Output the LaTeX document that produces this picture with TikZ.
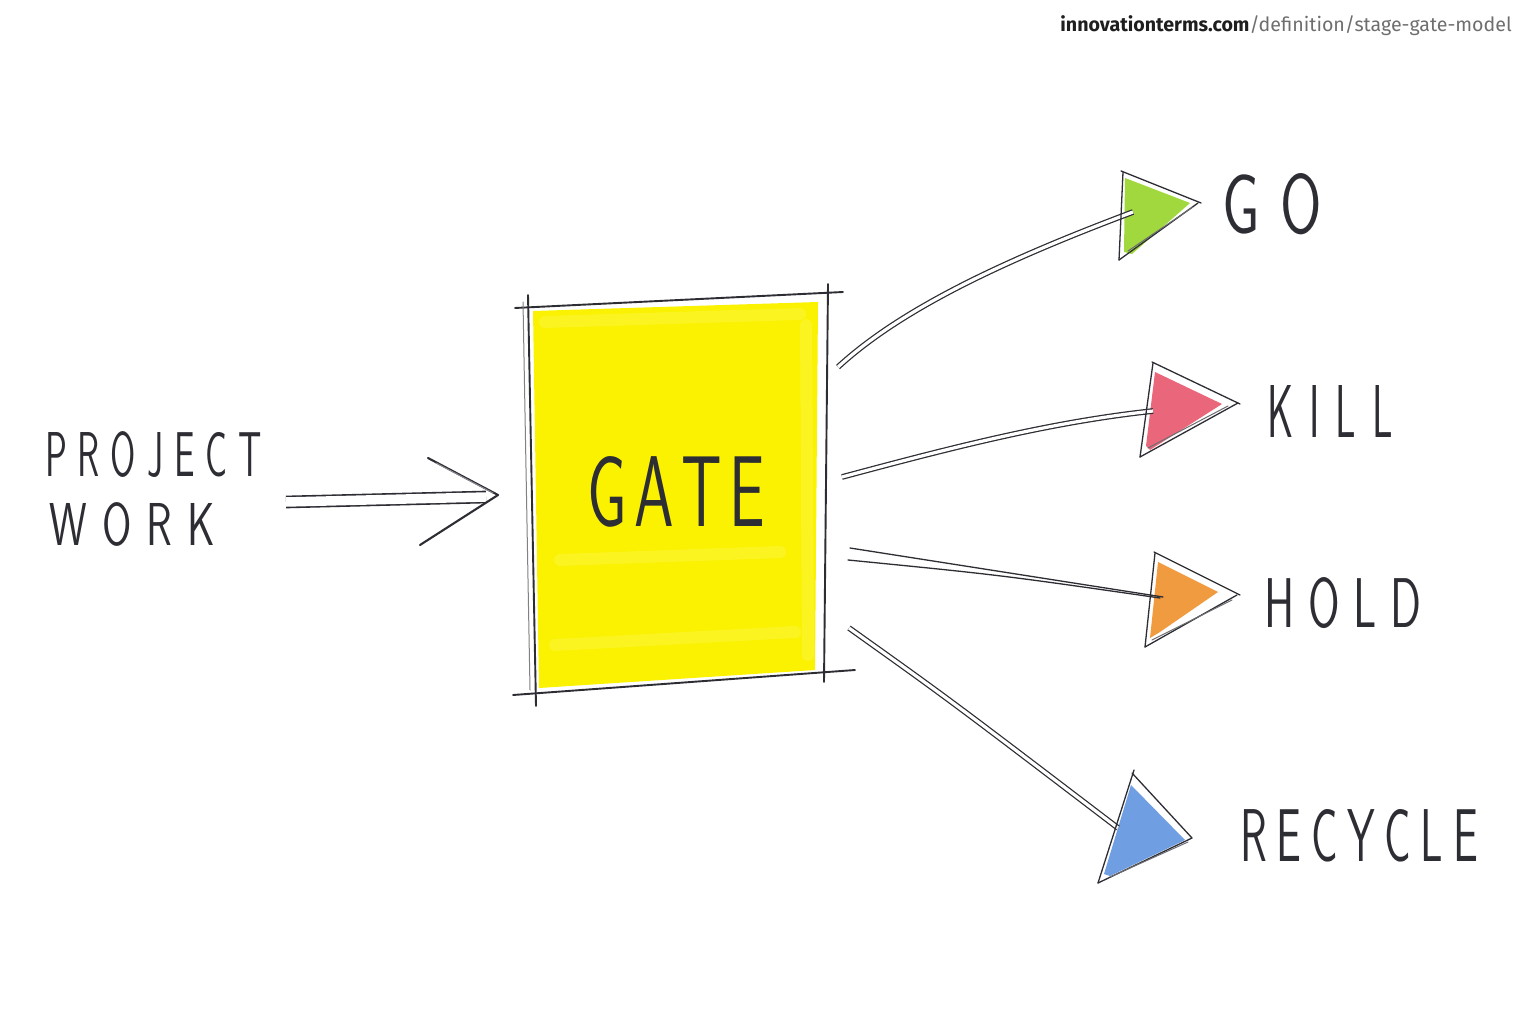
\documentclass[tikz,border=0pt]{standalone}
\usepackage{fontspec}
\usepackage{graphicx}
\newfontfamily\urlfont{Fira Sans}
\definecolor{ink}{RGB}{45,45,52}
\definecolor{gateyellow}{RGB}{250,242,0}
\definecolor{gatelight}{RGB}{255,250,110}
\definecolor{gogreen}{RGB}{150,212,40}
\definecolor{killred}{RGB}{232,82,105}
\definecolor{holdorange}{RGB}{240,145,45}
\definecolor{recblue}{RGB}{92,145,222}
\definecolor{urldark}{RGB}{30,30,30}
\definecolor{urlgray}{RGB}{110,110,110}
\makeatletter
\newcommand\spacedtext[2]{{\@tfor\sp@c:=#2\do{\sp@c\kern#1}\unkern}}
\makeatother
\newcommand\hand[4]{\resizebox{#1}{#2}{\sffamily\fontsize{50}{50}\selectfont\spacedtext{#3}{#4}}}
\begin{document}
\begin{tikzpicture}[x=1pt,y=-1pt,line cap=round,line join=round,
  sketch/.style={draw=ink,line width=1.9pt},
  thinline/.style={draw=ink,line width=1.3pt},
  dbl/.style={draw=ink,line width=1.25pt,double=white,double distance=3.2pt,line cap=butt},
  lbl/.style={inner sep=0pt,text=ink},
  marker/.style={draw=gatelight,line width=12pt,opacity=.3}]
\useasboundingbox (0,0) rectangle (1536,1024);
\fill[white] (0,0) rectangle (1536,1024);

% ---- gate ----
\fill[gateyellow] (533,311) -- (818,302) -- (815,670) -- (539,688) -- cycle;
\draw[marker] (806,325) -- (808,655);
\draw[marker] (545,322) -- (800,314);
\draw[marker] (555,645) -- (795,632);
\draw[marker] (560,560) -- (780,552);
\draw[sketch] (515,308) -- (843,292);
\draw[sketch] (528,295) .. controls (531,450) .. (536,706);
\draw[ink!60,line width=1pt] (523,302) -- (530,690);
\draw[sketch] (828,284) -- (824,682);
\draw[sketch] (513,695) -- (855,670);
\node[lbl] (gate) at (676,492) {\hand{178pt}{70pt}{0.12em}{GATE}};

% ---- input ----
\node[lbl] (project) at (153.5,454.5) {\hand{217pt}{45pt}{0.3em}{PROJECT}};
\node[lbl] (work) at (132.5,524.5) {\hand{165pt}{43pt}{0.35em}{WORK}};
\coordinate (inS) at (286,502);
\coordinate (inE) at (486,497);
\coordinate (inTip) at (498,495);
\draw[dbl,line width=1.6pt,double distance=9.5pt] (inS) -- (inE);
\draw[sketch,line width=2.1pt] (428,458) -- (inTip) -- (420,545);
\draw[ink!55,line width=1pt] (436,463) -- (493,493);

% ---- GO ----
\coordinate (goS) at (838,367);
\coordinate (goE) at (1133,212);
\coordinate (goA) at (1123,172);
\coordinate (goB) at (1198,203);
\coordinate (goC) at (1119,260);
\fill[gogreen,opacity=.9] (1125,178) -- (1190,203) -- (1132,254) -- (1124,252) -- cycle;
\draw[dbl] (goS) .. controls (900,310) and (1000,262) .. (goE);
\draw[thinline] (goA) -- (goC);
\draw[thinline] (1121,171) -- (1201,203);
\draw[thinline] (goC) -- (goB);
\draw[ink!70,line width=1pt] (1128,251) -- (1193,207);
\node[lbl] (go) at (1272,204) {\hand{100pt}{60pt}{0.35em}{GO}};

% ---- KILL ----
\coordinate (kiS) at (842,477);
\coordinate (kiE) at (1153,411);
\coordinate (kiA) at (1153,363);
\coordinate (kiB) at (1238,403);
\coordinate (kiC) at (1140,457);
\fill[killred,opacity=.88] (1155,372) -- (1222,404) -- (1150,450) -- (1146,446) -- cycle;
\draw[dbl] (kiS) .. controls (950,448) and (1050,422) .. (kiE);
\draw[thinline] (kiA) -- (kiC);
\draw[thinline] (1152,362) -- (1240,404);
\draw[thinline] (kiC) -- (kiB);
\draw[ink!70,line width=1pt] (1148,448) -- (1228,406);
\node[lbl] (kill) at (1330,411) {\hand{126pt}{52pt}{0.4em}{KILL}};

% ---- HOLD ----
\coordinate (hoS1) at (850,548);
\coordinate (hoS2) at (848,560);
\coordinate (hoE) at (1163,597);
\coordinate (hoA) at (1155,553);
\coordinate (hoB) at (1237,595);
\coordinate (hoC) at (1145,647);
\fill[holdorange,opacity=.9] (1158,562) -- (1218,592) -- (1160,632) -- (1150,638) -- cycle;
\draw[thinline] (hoS1) -- (hoE);
\draw[thinline] (hoS2) .. controls (1000,575) .. (1160,598);
\draw[thinline] (hoA) -- (hoC);
\draw[thinline] (1154,552) -- (1240,595);
\draw[thinline] (hoC) -- (hoB);
\draw[ink!70,line width=1pt] (1152,640) -- (1232,600);
\node[lbl] (hold) at (1343,603) {\hand{157pt}{50pt}{0.3em}{HOLD}};

% ---- RECYCLE ----
\coordinate (reS) at (849,628);
\coordinate (reE) at (1118,828);
\coordinate (reA) at (1132,773);
\coordinate (reB) at (1192,838);
\coordinate (reC) at (1098,883);
\fill[recblue,opacity=.88] (1131,785) -- (1185,840) -- (1110,876) -- (1104,874) -- cycle;
\draw[dbl] (reS) .. controls (950,700) .. (reE);
\draw[thinline] (1134,770) -- (reC);
\draw[thinline] (reA) -- (reB);
\draw[thinline] (reC) -- (reB);
\draw[ink!70,line width=1pt] (1110,877) -- (1188,842);
\node[lbl] (recycle) at (1359,836) {\hand{238pt}{52pt}{0.22em}{RECYCLE}};

% ---- url ----
\node[anchor=base east,inner sep=0pt] (url) at (1512,32)
  {\urlfont\fontsize{19.6}{19.6}\selectfont\textcolor{urldark}{\bfseries innovationterms.com}\textcolor{urlgray}{/definition/stage-gate-model}};
\end{tikzpicture}
\end{document}
